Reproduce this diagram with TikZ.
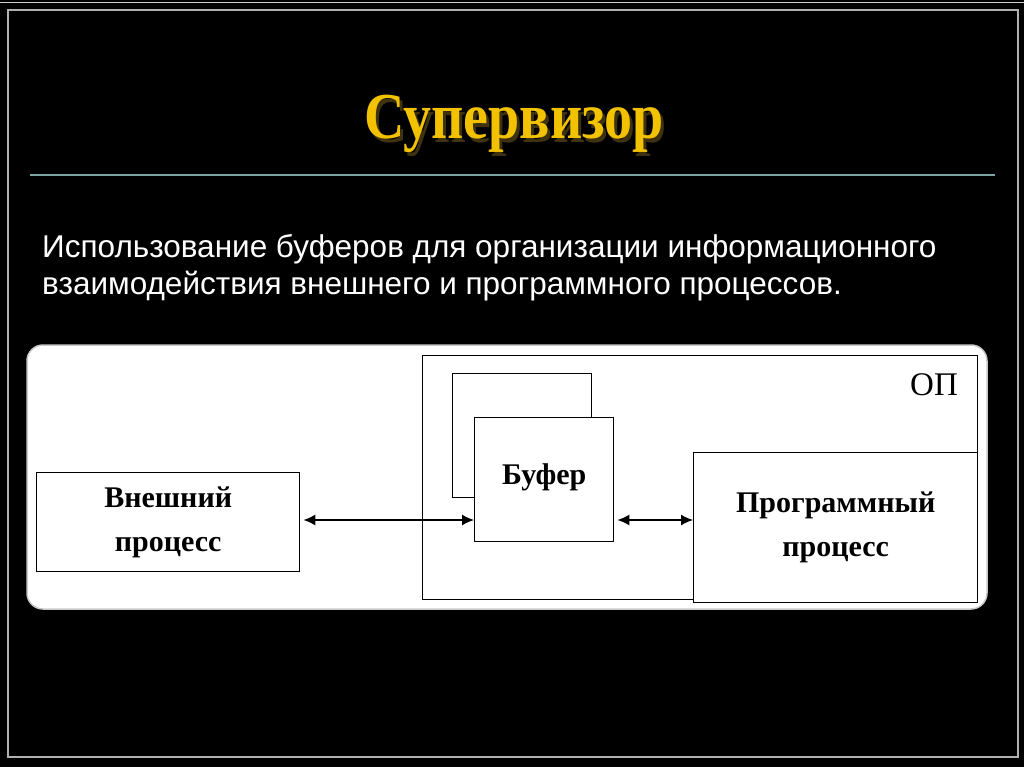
\documentclass[tikz,border=0pt]{standalone}
\usepackage{fontspec}
\setmainfont{Liberation Serif}
\newfontfamily\bodysans{Liberation Sans}
\usetikzlibrary{arrows.meta}
\definecolor{titlegold}{HTML}{F2C200}
\definecolor{titleshadow}{HTML}{3E3210}
\definecolor{rulecol}{HTML}{7FA3A3}
\definecolor{framecol}{HTML}{B0B0B0}
\newcommand{\shadowed}[1]{\makebox[0pt][l]{\hspace{3pt}\raisebox{-3pt}{\textcolor{titleshadow}{#1}}}#1}
\begin{document}
\begin{tikzpicture}[x=1pt,y=-1pt,
  box/.style={draw=black, line width=1.4pt, fill=white, inner sep=0pt, anchor=north west},
  lbl/.style={font=\fontsize{30}{44}\selectfont\bfseries, align=center, text=black},
  arr/.style={{Latex[length=12pt,width=11pt]}-{Latex[length=12pt,width=11pt]}, line width=1.4pt, shorten <=3pt},
  titlestyle/.style={font=\fontsize{56}{60}\selectfont\bfseries, yscale=1.17}]
\useasboundingbox (0,0) rectangle (1024,767);
\fill[black] (0,0) rectangle (1024,767);
\draw[framecol!60, line width=1pt] (0,3) -- (1024,3);
\draw[framecol, line width=1.5pt] (8,10) rectangle (1018,757);
% title
\node[titlestyle, text=titlegold] (title) at (514,126) {\shadowed{Супервизор}};
\coordinate (rl) at (30,175);
\coordinate (rr) at (995,175);
\draw[rulecol, line width=2pt] (rl) -- (rr);
% body text
\node[anchor=base west, text=white, font=\bodysans\fontsize{31.5}{34}\selectfont, inner sep=0pt] (l1) at (42,257) {Использование буферов для организации информационного};
\node[anchor=base west, text=white, font=\bodysans\fontsize{31.5}{34}\selectfont, inner sep=0pt] (l2) at (42,294) {взаимодействия внешнего и программного процессов.};
% panel
\draw[fill=white, draw=framecol!70, line width=1.5pt, rounded corners=16pt] (27,345) rectangle (987,609);
% diagram
\node[box, minimum width=555pt, minimum height=244pt] (op) at (422,355) {};
\node[box, minimum width=139pt, minimum height=124pt] (bufback) at (452,373) {};
\node[box, minimum width=139pt, minimum height=124pt] (buf) at (474,417) {};
\node[lbl] at ([yshift=2pt]buf.center) {Буфер};
\node[box, minimum width=284pt, minimum height=150pt] (prog) at (693,452) {};
\node[lbl] at (prog.center) {Программный\\процесс};
\node[box, minimum width=263pt, minimum height=99pt] (ext) at (36,472) {};
\node[lbl] at (ext.center) {Внешний\\процесс};
\node[font=\fontsize{33}{34}\selectfont, text=black] (optext) at (934,385) {ОП};
\coordinate (ay) at (0,520);
\draw[arr] (ext.east |- ay) -- (buf.west |- ay);
\draw[arr] (buf.east |- ay) -- (prog.west |- ay);
\end{tikzpicture}
\end{document}
